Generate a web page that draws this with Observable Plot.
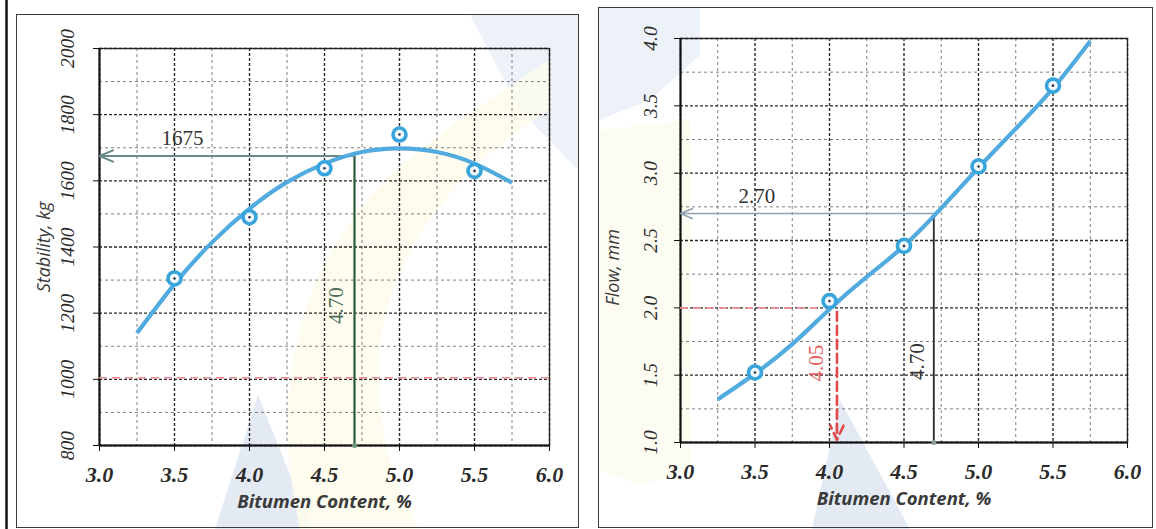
<!DOCTYPE html>
<html>
<head>
<meta charset="utf-8">
<script src="https://cdn.jsdelivr.net/npm/d3@7"></script>
<script src="https://cdn.jsdelivr.net/npm/@observablehq/plot@0.6"></script>
<style>
  html, body { margin: 0; padding: 0; background: #ffffff; }
  body { position: relative; width: 1156px; height: 529px; overflow: hidden; }
  .panel { position: absolute; top: 0; }
  .box { position: absolute; border: 1.5px solid #3a3a3a; box-sizing: border-box; pointer-events: none; }
  .bg { position: absolute; left: 0; top: 0; }
</style>
</head>
<body>
<svg class="bg" width="1156" height="529">
  <polygon points="470,15 578,15 578,170 520,110" fill="#e6ebf5" opacity="0.7"/>
  <polygon points="599,8 700,8 700,55 650,100 599,120" fill="#e6ebf5" opacity="0.7"/>
  <polygon points="258,395 215,529 312,529" fill="#dfe6f2" opacity="0.85"/>
  <polygon points="840,400 812,529 910,529" fill="#dfe6f2" opacity="0.85"/>
  <path d="M300,529 C270,400 290,250 420,150 C470,110 520,80 549,60 L549,110 C470,160 390,240 380,350 C375,420 390,480 420,529 Z" fill="#fdfbec" opacity="0.85"/>
  <path d="M599,130 L690,120 L690,470 L640,485 L599,470 Z" fill="#fdfcf0" opacity="0.85"/>
  <line x1="6.5" y1="0" x2="6.5" y2="529" stroke="#111" stroke-width="2.5"/>
</svg>
<div id="left" class="panel" style="left:0px"></div>
<div id="right" class="panel" style="left:576px"></div>
<div class="box" style="left:16px; top:14px; width:563px; height:514px;"></div>
<div class="box" style="left:598px; top:7px; width:555px; height:521px;"></div>
<script>
// ---------- data ----------
const bitumen = [3.5, 4.0, 4.5, 5.0, 5.5];
const stability = [1305, 1490, 1638, 1740, 1630];
const flow = [1.52, 2.05, 2.46, 3.05, 3.65];

const fitBitumen = [3.25, 3.5, 3.75, 4.0, 4.25, 4.5, 4.75, 5.0, 5.25, 5.5, 5.75];
const stabilityFit = [1140, 1288, 1414, 1516, 1596, 1652, 1687, 1698, 1687, 1652, 1594];
const flowFit = [1.32, 1.51, 1.73, 1.99, 2.23, 2.46, 2.74, 3.04, 3.33, 3.63, 3.98];

const xTicks = [3.0, 3.5, 4.0, 4.5, 5.0, 5.5, 6.0];
const xMinor = [3.25, 3.75, 4.25, 4.75, 5.25, 5.75];
const stabilityTicks = [800, 1000, 1200, 1400, 1600, 1800, 2000];
const stabilityMinor = [900, 1100, 1300, 1500, 1700, 1900];
const flowTicks = [1.0, 1.5, 2.0, 2.5, 3.0, 3.5, 4.0];
const flowMinor = [1.25, 1.75, 2.25, 2.75, 3.25, 3.75];

const optimumBitumen = 4.70;
const stabilityAtOptimum = 1675;
const flowAtOptimum = 2.70;
const minStability = 1005;
const minFlow = 2.0;
const bitumenAtMinFlow = 4.05;

const xLabel = "Bitumen Content, %";
const stabilityLabel = "Stability, kg";
const flowLabel = "Flow, mm";

// ---------- helpers ----------
const serif = "'Liberation Serif', 'DejaVu Serif', serif";
const sans = "'Open Sans', 'Noto Sans', sans-serif";
const points = (ys) => bitumen.map((x, i) => ({x, y: ys[i]}));
const fit = (ys) => fitBitumen.map((x, i) => ({x, y: ys[i]}));

function baseMarks(yTicks, yMinor, yMin, fmtY, yTickDx) {
  return [
    Plot.gridX(xMinor, {stroke: "#555", strokeOpacity: 0.75, strokeDasharray: "3,3", strokeWidth: 1}),
    Plot.gridY(yMinor, {stroke: "#555", strokeOpacity: 0.75, strokeDasharray: "3,3", strokeWidth: 1}),
    Plot.gridX(xTicks, {stroke: "#111", strokeOpacity: 0.9, strokeDasharray: "3,2", strokeWidth: 1.4}),
    Plot.gridY(yTicks, {stroke: "#111", strokeOpacity: 0.9, strokeDasharray: "3,2", strokeWidth: 1.4}),
    Plot.frame({stroke: "#222", strokeWidth: 1.3}),
    Plot.ruleX([xTicks[0]], {stroke: "#111", strokeWidth: 2}),
    Plot.ruleY([yMin], {stroke: "#111", strokeWidth: 2}),
    Plot.axisX({ticks: xTicks, tickSize: 6, tickFormat: () => "", label: null, stroke: "#111"}),
    Plot.axisY({ticks: yTicks, tickSize: 6, tickFormat: () => "", label: null, stroke: "#111"}),
    Plot.text(xTicks, {x: d => d, frameAnchor: "bottom", lineAnchor: "middle", dy: 29, text: d => d.toFixed(1),
      fontFamily: serif, fontSize: 22, fontStyle: "italic", fontWeight: "bold", fill: "#2a2a2a"}),
    Plot.text(yTicks, {y: d => d, frameAnchor: "left", textAnchor: "middle", lineAnchor: "middle", dx: yTickDx,
      rotate: -90, text: fmtY, fontFamily: serif, fontSize: 19.5, fontStyle: "italic", fill: "#2a2a2a"}),
    Plot.text([xLabel], {frameAnchor: "bottom", lineAnchor: "middle", dy: 57, fontFamily: sans, fontSize: 18.5,
      fontStyle: "italic", fontWeight: "bold", fill: "#3a3a3a"})
  ];
}

function curveMarks(ys, fitYs) {
  return [
    Plot.line(fit(fitYs), {x: "x", y: "y", curve: "natural", stroke: "#52abdf", strokeWidth: 4.2, strokeLinecap: "butt"}),
    Plot.dot(points(ys), {x: "x", y: "y", r: 6.5, stroke: "#38a4dc", strokeWidth: 3.6, fill: "#f2f9fd"}),
    Plot.dot(points(ys), {x: "x", y: "y", r: 1.3, fill: "#334"})
  ];
}

// ---------- left: stability ----------
const leftPlot = Plot.plot({
  width: 580, height: 529,
  marginLeft: 99, marginRight: 31, marginTop: 48, marginBottom: 84,
  x: {domain: [xTicks[0], xTicks[xTicks.length - 1]]},
  y: {domain: [stabilityTicks[0], stabilityTicks[stabilityTicks.length - 1]]},
  style: {background: "transparent", overflow: "visible"},
  marks: [
    ...baseMarks(stabilityTicks, stabilityMinor, stabilityTicks[0], d => String(d), -32),
    Plot.ruleY([minStability], {stroke: "#ec8a92", strokeDasharray: "8,5", strokeWidth: 1.6}),
    Plot.ruleX([optimumBitumen], {y1: stabilityTicks[0], y2: stabilityAtOptimum, stroke: "#2c5a3a", strokeWidth: 2.2}),
    Plot.dot([optimumBitumen], {x: d => d, y: stabilityTicks[0], r: 2.5, fill: "#6a9a7a"}),
    Plot.arrow([stabilityAtOptimum], {x1: optimumBitumen, x2: xTicks[0], y1: d => d, y2: d => d,
      stroke: "#6a8a8a", strokeWidth: 2, headLength: 11, headAngle: 45}),
    ...curveMarks(stability, stabilityFit),
    Plot.text([stabilityAtOptimum], {x: xTicks[0], y: d => d, dx: 62, dy: -18, textAnchor: "start",
      text: d => String(d), fontFamily: serif, fontSize: 21, fill: "#333"}),
    Plot.text([optimumBitumen], {x: d => d, y: 1223, dx: -18, rotate: -90, text: d => d.toFixed(2),
      fontFamily: serif, fontSize: 21, fill: "#4d6e5a"}),
    Plot.text([stabilityLabel], {frameAnchor: "left", textAnchor: "middle", lineAnchor: "middle", dx: -55,
      rotate: -90, fontFamily: sans, fontSize: 18, fontStyle: "italic", fill: "#3a3a3a"})
  ]
});
document.getElementById("left").append(leftPlot);

// ---------- right: flow ----------
const rightPlot = Plot.plot({
  width: 580, height: 529,
  marginLeft: 104, marginRight: 29, marginTop: 38, marginBottom: 87,
  x: {domain: [xTicks[0], xTicks[xTicks.length - 1]]},
  y: {domain: [flowTicks[0], flowTicks[flowTicks.length - 1]]},
  style: {background: "transparent", overflow: "visible"},
  marks: [
    ...baseMarks(flowTicks, flowMinor, flowTicks[0], d => d.toFixed(1), -30),
    Plot.ruleY([minFlow], {x1: xTicks[0], x2: 3.92, stroke: "#ec8a92", strokeDasharray: "8,5", strokeWidth: 1.6}),
    Plot.arrow([bitumenAtMinFlow], {x1: d => d, x2: d => d, y1: minFlow - 0.03, y2: flowTicks[0] + 0.02,
      stroke: "#e24a4a", strokeWidth: 2.6, strokeDasharray: "9,5", headLength: 9, headAngle: 50}),
    Plot.ruleX([optimumBitumen], {y1: flowTicks[0], y2: flowAtOptimum, stroke: "#2a2a2a", strokeWidth: 1.8}),
    Plot.dot([optimumBitumen], {x: d => d, y: flowTicks[0], r: 2.5, fill: "#8a9a9a"}),
    Plot.arrow([flowAtOptimum], {x1: optimumBitumen, x2: xTicks[0], y1: d => d, y2: d => d,
      stroke: "#8ea2b4", strokeWidth: 1.6, headLength: 12, headAngle: 45}),
    ...curveMarks(flow, flowFit),
    Plot.text([flowAtOptimum], {x: xTicks[0], y: d => d, dx: 58, dy: -17, textAnchor: "start",
      text: d => d.toFixed(2), fontFamily: serif, fontSize: 21, fill: "#333"}),
    Plot.text([optimumBitumen], {x: d => d, y: 1.6, dx: -17, rotate: -90, text: d => d.toFixed(2),
      fontFamily: serif, fontSize: 21, fill: "#333"}),
    Plot.text([bitumenAtMinFlow], {x: d => d, y: 1.59, dx: -21, rotate: -90, text: d => d.toFixed(2),
      fontFamily: serif, fontSize: 21, fill: "#e26060"}),
    Plot.text([flowLabel], {frameAnchor: "left", textAnchor: "middle", lineAnchor: "middle", dx: -67, dy: 27,
      rotate: -90, fontFamily: sans, fontSize: 18, fontStyle: "italic", fill: "#3a3a3a"})
  ]
});
document.getElementById("right").append(rightPlot);
</script>
</body>
</html>
